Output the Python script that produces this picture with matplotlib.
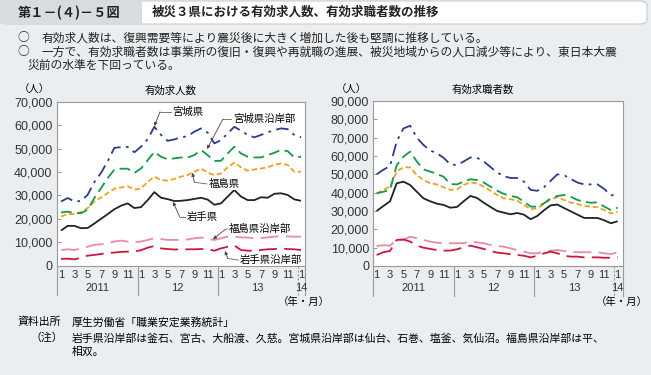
import numpy as np
import matplotlib
matplotlib.use('Agg')
import matplotlib.pyplot as plt
import matplotlib.patches as patches
import matplotlib.transforms as transforms

plt.rcParams['font.family'] = ['Liberation Sans', 'Noto Sans CJK JP']
plt.rcParams['font.size'] = 8

# months: 2011/1 ... 2014/1
months = np.arange(37)

# 有効求人数 (persons)
openings_iwate = [15000, 17000, 17000, 16000, 16100, 18000, 20000, 22000, 24100, 25600, 26600, 24600,
                  25000, 28000, 31400, 29000, 28400, 27600, 27700, 28000, 28500, 29000, 28200, 26000,
                  26600, 29500, 32300, 29500, 28000, 28000, 29200, 29000, 30700, 30900, 30200, 28300, 27700]
openings_miyagi = [27400, 28900, 27400, 27600, 30300, 35700, 39600, 44600, 50300, 50600, 50700, 48400,
                   50800, 54000, 59300, 55800, 53300, 53900, 54800, 55300, 57200, 58600, 56800, 52200,
                   53600, 56500, 59300, 57600, 55800, 54800, 55800, 56900, 57900, 58600, 58300, 55800, 54800]
openings_miyagi_coast = [22700, 23100, 22400, 22400, 23900, 28900, 33100, 37400, 41000, 41400, 41400, 39600,
                         41500, 45000, 48600, 46500, 45400, 45800, 46200, 46200, 47200, 49400, 47200, 44700,
                         44800, 47900, 50800, 47900, 46500, 46200, 46200, 47200, 48200, 49400, 48900, 46200, 46500]
openings_fukushima = [21000, 22000, 22000, 22900, 24600, 27400, 29100, 31000, 32900, 33400, 33900, 32400,
                      33000, 35800, 38000, 36600, 36300, 37000, 38000, 38700, 40100, 41500, 39700, 38700,
                      39400, 42000, 44000, 42000, 40500, 41100, 41500, 42000, 43000, 43700, 43000, 40100, 40100]
openings_fukushima_coast = [6700, 7000, 6700, 7400, 8100, 8900, 9100, 9600, 10300, 10700, 10300, 10000,
                            10300, 11000, 11700, 11400, 11000, 11000, 11000, 11200, 11700, 12000, 11400, 11000,
                            11700, 12400, 12400, 12100, 12000, 11700, 11800, 12100, 12400, 12500, 12500, 12400, 12400]
openings_iwate_coast = [2900, 3000, 2700, 3400, 4300, 4600, 5000, 5400, 5600, 5900, 6000, 6100,
                        6600, 7700, 8400, 7400, 7100, 6900, 7000, 7000, 7000, 7100, 7000, 6400,
                        7400, 8100, 8600, 6700, 6400, 6400, 6700, 7000, 7100, 7400, 7100, 7000, 6700]

# 有効求職者数 (persons)
seekers_iwate = [30000, 32700, 35300, 45100, 46000, 44200, 40500, 36900, 35300, 34000, 33300, 31800,
                 32200, 35300, 38200, 37100, 34500, 32200, 30000, 29100, 28200, 28900, 28000, 25500,
                 27300, 30400, 33100, 33500, 31600, 29800, 28000, 26200, 26200, 26200, 24900, 23300, 24400]
seekers_miyagi = [50000, 52500, 54500, 68000, 75000, 76500, 70000, 66000, 63000, 61500, 59000, 55500,
                  55000, 57000, 59200, 59000, 57000, 54000, 51000, 49000, 48000, 48000, 46000, 41500,
                  41000, 43000, 46500, 50000, 49500, 47500, 45500, 44500, 44500, 44500, 42000, 38500, 39500]
seekers_miyagi_coast = [39600, 40500, 41500, 55000, 59600, 62400, 57000, 52700, 51500, 50200, 48700, 44700,
                        44500, 46000, 47300, 46900, 45500, 43300, 41100, 39300, 38200, 37500, 35100, 32400,
                        32400, 34200, 36900, 38200, 38700, 37800, 36000, 35100, 34500, 34700, 32400, 30500, 31800]
seekers_fukushima = [39600, 41500, 43300, 51500, 53800, 53800, 49600, 46900, 45100, 44500, 42900, 41500,
                     41800, 44200, 45600, 45100, 43300, 41100, 38700, 36900, 36400, 35600, 33300, 30900,
                     31500, 33800, 36500, 37500, 36000, 34500, 33800, 32700, 32400, 32000, 30500, 28700, 29600]
seekers_fukushima_coast = [10900, 11300, 11100, 14200, 14200, 16000, 15100, 14200, 13300, 12700, 12400, 12400,
                           12400, 12500, 13300, 12900, 12400, 11500, 11000, 10500, 9600, 8700, 7800, 6900,
                           6900, 7800, 8400, 8700, 8200, 7800, 7500, 7500, 7500, 7500, 6900, 6500, 7500]
seekers_iwate_coast = [6000, 7500, 8200, 14200, 14500, 13300, 11100, 10000, 9300, 8700, 8400, 8400,
                       9100, 10200, 11100, 10200, 9300, 8200, 7300, 6900, 6400, 6000, 5600, 4700,
                       5600, 6900, 7800, 6900, 5600, 5100, 5100, 4700, 4700, 4700, 4500, 4500, 4700]

month_ticks = [0, 2, 4, 6, 8, 10, 12, 14, 16, 18, 20, 22, 24, 26, 28, 30, 32, 34, 36]
month_labels = ['1', '3', '5', '7', '9', '11'] * 3 + ['1']
year_pos = [5.5, 17.5, 29.5, 36]
year_labels = ['2011', '12', '13', '14']

# series style: (color, dashes)
styles = {
    'miyagi': ('#2e3a8c', (7, 3, 1.5, 3)),
    'miyagi_coast': ('#14994a', (6, 3)),
    'fukushima': ('#f0a01e', (3, 1.6)),
    'iwate': ('#222222', None),
    'fukushima_coast': ('#e98aa6', (10, 4)),
    'iwate_coast': ('#d0163c', (10, 4)),
}

BG = '#ebeef0'
fig = plt.figure(figsize=(6.51, 3.75), dpi=100)
fig.patch.set_facecolor(BG)


def fx(px):
    return px / 651


def fy(py):
    return 1 - py / 375


# header
fig.add_artist(patches.FancyBboxPatch((fx(1), fy(24)), fx(646), fy(1) - fy(24),
                                      boxstyle='round,pad=0,rounding_size=0.012',
                                      fc='white', ec='#c8cccf', lw=0.8, transform=fig.transFigure))
fig.add_artist(patches.Rectangle((0, fy(24)), fx(142), fy(0) - fy(24),
                                 fc='#d8dcdf', ec='none', transform=fig.transFigure))
fig.text(fx(18), fy(12.5), '第１－(４)－５図', fontsize=9.5, fontweight='bold',
         va='center', ha='left', color='#222222', family=['Noto Sans CJK JP'])
fig.text(fx(152), fy(12.5), '被災３県における有効求人数、有効求職者数の推移', fontsize=9.0,
         fontweight='bold', va='center', ha='left', color='#222222', family=['Noto Sans CJK JP'])

body = [
    (fx(17), fx(42), 38, '○', '有効求人数は、復興需要等により震災後に大きく増加した後も堅調に推移している。'),
    (fx(17), fx(42), 52, '○', '一方で、有効求職者数は事業所の復旧・復興や再就職の進展、被災地域からの人口減少等により、東日本大震'),
    (None, fx(27), 65.5, '', '災前の水準を下回っている。'),
]
for bx, tx, y, b, t in body:
    if bx is not None:
        fig.text(bx, fy(y), b, fontsize=8.5, va='center', ha='left', color='#222222',
                 family=['Noto Sans CJK JP'])
    fig.text(tx, fy(y), t, fontsize=8.5, va='center', ha='left', color='#222222',
             family=['Noto Sans CJK JP'])

# footer
fig.text(fx(18), fy(322), '資料出所', fontsize=7.8, va='center', ha='left', family=['Noto Sans CJK JP'])
fig.text(fx(72), fy(322), '厚生労働省「職業安定業務統計」', fontsize=7.8, va='center', ha='left',
         family=['Noto Sans CJK JP'])
fig.text(fx(63), fy(338), '（注）', fontsize=7.8, va='center', ha='right', family=['Noto Sans CJK JP'])
fig.text(fx(72), fy(338), '岩手県沿岸部は釜石、宮古、大船渡、久慈。宮城県沿岸部は仙台、石巻、塩釜、気仙沼。福島県沿岸部は平、',
         fontsize=7.8, va='center', ha='left', family=['Noto Sans CJK JP'])
fig.text(fx(72), fy(352), '相双。', fontsize=7.8, va='center', ha='left', family=['Noto Sans CJK JP'])


def draw_panel(rect, xlim, ymax, ystep, series, title, title_x):
    ax = fig.add_axes(rect)
    ax.set_facecolor('white')
    for key, vals in series:
        color, dashes = styles[key]
        line, = ax.plot(months, vals, color=color, lw=1.3, solid_capstyle='butt')
        if dashes is not None:
            line.set_dashes(dashes)
    ax.set_xlim(*xlim)
    ax.set_ylim(0, ymax)
    ax.set_yticks(range(0, ymax + 1, ystep))
    ax.set_yticklabels(['{:,}'.format(v) for v in range(0, ymax + 1, ystep)], fontsize=9, color='#333333')
    ax.tick_params(axis='y', direction='in', length=3, width=0.6, color='#888888', pad=3)
    ax.set_xticks(month_ticks)
    ax.set_xticklabels(month_labels, fontsize=8, color='#333333')
    ax.tick_params(axis='x', length=0, pad=3)
    for s in ax.spines.values():
        s.set_color('#9a9a9a')
        s.set_linewidth(0.8)
    trans = transforms.blended_transform_factory(ax.transData, ax.transAxes)
    for xv, ls in [(xlim[0], '-'), (11.5, '-'), (23.5, '-'), (35.5, (0, (2, 1.5))), (xlim[1], '-')]:
        ax.plot([xv, xv], [0, -0.18], transform=trans, color='#9a9a9a', lw=0.8, ls=ls, clip_on=False)
    for xv, lab in zip(year_pos, year_labels):
        ax.text(xv, -0.135, lab, transform=trans, ha='center', va='center', fontsize=8, color='#333333')
    ax.text(xlim[1] - 0.2, -0.22, '（年・月）', transform=trans, ha='center', va='center', fontsize=7.5,
            family=['Noto Sans CJK JP'])
    ax.text(-0.09, 1.07, '（人）', transform=ax.transAxes, ha='center', va='center', fontsize=7.5,
            family=['Noto Sans CJK JP'])
    ax.text(title_x, 1.07, title, transform=ax.transAxes, ha='center', va='center', fontsize=7.5,
            family=['Noto Sans CJK JP'])
    return ax


ax1 = draw_panel([0.0871, 0.2915, 0.3814, 0.4373], (-0.65, 36.6), 70000, 10000,
                 [('fukushima_coast', openings_fukushima_coast), ('iwate_coast', openings_iwate_coast),
                  ('iwate', openings_iwate), ('fukushima', openings_fukushima),
                  ('miyagi_coast', openings_miyagi_coast), ('miyagi', openings_miyagi)],
                 '有効求人数', 0.46)
ax2 = draw_panel([0.5734, 0.2907, 0.3831, 0.44], (-0.5, 36.75), 90000, 10000,
                 [('fukushima_coast', seekers_fukushima_coast), ('iwate_coast', seekers_iwate_coast),
                  ('iwate', seekers_iwate), ('fukushima', seekers_fukushima),
                  ('miyagi_coast', seekers_miyagi_coast), ('miyagi', seekers_miyagi)],
                 '有効求職者数', 0.44)

# leader labels on the left panel: (text, text x, text y, bend x, bend y, target x, target y)
labels = [
    ('宮城県', 16.7, 65700, 14.85, 65700, 14.0, 59600),
    ('宮城県沿岸部', 25.8, 62600, 24.3, 62600, 21.9, 49800),
    ('福島県', 22.1, 34900, 20.0, 35600, 19.7, 39700),
    ('岩手県', 18.9, 20800, 17.8, 20800, 16.8, 27300),
    ('福島県沿岸部', 25.1, 15700, 24.5, 15200, 22.8, 11300),
    ('岩手県沿岸部', 26.8, 2400, 25.0, 3100, 24.6, 6300),
]
for t, tx, ty, bx, by, px, py in labels:
    ax1.text(tx, ty, t, ha='left', va='center', fontsize=7.5, family=['Noto Sans CJK JP'],
             bbox=dict(fc='white', ec='none', pad=0.5))
    ax1.plot([tx - 0.2, bx], [ty, by], color='#666666', lw=0.6)
    ax1.annotate('', xy=(px, py), xytext=(bx, by),
                 arrowprops=dict(arrowstyle='-|>,head_length=0.25,head_width=0.12', color='#444444', lw=0.6,
                                 shrinkA=0, shrinkB=0))

fig.savefig('out.png', dpi=100, facecolor=BG)
